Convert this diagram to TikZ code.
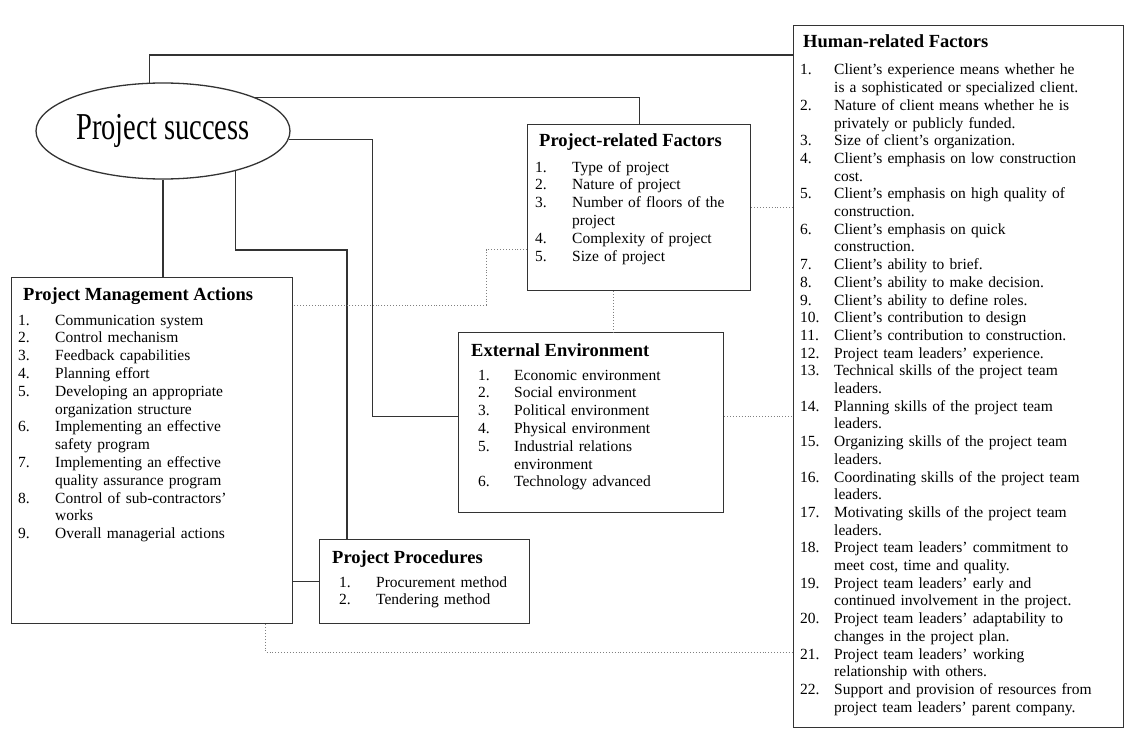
\documentclass[tikz,border=0pt]{standalone}
\usepackage{fontspec}
\setmainfont{Liberation Serif}
\usetikzlibrary{shapes.geometric}
\newlength\numcol
\newcommand\itm[2]{\makebox[\numcol][l]{#1}#2}
\newcommand\cnt[1]{\hspace*{\numcol}#1}
\begin{document}
\begin{tikzpicture}[
          x=1pt, y=-1pt,
          box/.style={draw=black!80, line width=1.3pt, anchor=north west, inner sep=0pt},
          heading/.style={anchor=base west, inner sep=0pt, font=\fontsize{18.5}{22}\selectfont\bfseries},
          items/.style={anchor=base west, inner sep=0pt, text width=330pt, align=left, font=\fontsize{15.5}{17.8}\selectfont},
          tie/.style={draw=black!80, line width=1.2pt},
          link/.style={draw=black!50, line width=0.9pt, dotted}
        ]
        \useasboundingbox (0,0) rectangle (1126,730);
        \node[ellipse, draw=black!80, line width=1.3pt, minimum width=254pt, minimum height=96pt, inner sep=0pt] (success) at (163,131)
          {\fontsize{38}{40}\selectfont\scalebox{0.75}[1]{Project success}};

        \node[box, minimum width=281pt, minimum height=346pt] (pma) at (11,277) {};
        \node[heading] (pmahead) at ([shift={(12,23)}]pma.north west) {Project Management Actions};
        \node[items] (pmalist) at ([shift={(7,48)}]pma.north west) {\global\numcol=37pt\relax
          \itm{1.}{Communication system}\\
          \itm{2.}{Control mechanism}\\
          \itm{3.}{Feedback capabilities}\\
          \itm{4.}{Planning effort}\\
          \itm{5.}{Developing an appropriate}\\
          \cnt{organization structure}\\
          \itm{6.}{Implementing an effective}\\
          \cnt{safety program}\\
          \itm{7.}{Implementing an effective}\\
          \cnt{quality assurance program}\\
          \itm{8.}{Control of sub-contractors'}\\
          \cnt{works}\\
          \itm{9.}{Overall managerial actions}};

        \node[box, minimum width=223pt, minimum height=166pt] (prf) at (527,124) {};
        \node[heading] (prfhead) at ([shift={(12,23)}]prf.north west) {Project-related Factors};
        \node[items] (prflist) at ([shift={(8,48)}]prf.north west) {\global\numcol=37pt\relax
          \itm{1.}{Type of project}\\
          \itm{2.}{Nature of project}\\
          \itm{3.}{Number of floors of the}\\
          \cnt{project}\\
          \itm{4.}{Complexity of project}\\
          \itm{5.}{Size of project}};

        \node[box, minimum width=265pt, minimum height=180pt] (ee) at (458,332) {};
        \node[heading] (eehead) at ([shift={(13,24)}]ee.north west) {External Environment};
        \node[items] (eelist) at ([shift={(20,48)}]ee.north west) {\global\numcol=36pt\relax
          \itm{1.}{Economic environment}\\
          \itm{2.}{Social environment}\\
          \itm{3.}{Political environment}\\
          \itm{4.}{Physical environment}\\
          \itm{5.}{Industrial relations}\\
          \cnt{environment}\\
          \itm{6.}{Technology advanced}};

        \node[box, minimum width=210pt, minimum height=84pt] (pp) at (319,539) {};
        \node[heading] (pphead) at ([shift={(13,24)}]pp.north west) {Project Procedures};
        \node[items] (pplist) at ([shift={(20,48)}]pp.north west) {\global\numcol=37pt\relax
          \itm{1.}{Procurement method}\\
          \itm{2.}{Tendering method}};

        \node[box, minimum width=330pt, minimum height=702pt] (human) at (793,25) {};
        \node[heading] (humanhead) at ([shift={(10,23)}]human.north west) {Human-related Factors};
        \node[items, font=\fontsize{15.5}{17.7}\selectfont] (humanlist) at ([shift={(7,50)}]human.north west) {\global\numcol=34pt\relax
          \itm{1.}{Client's experience means whether he}\\
          \cnt{is a sophisticated or specialized client.}\\
          \itm{2.}{Nature of client means whether he is}\\
          \cnt{privately or publicly funded.}\\
          \itm{3.}{Size of client's organization.}\\
          \itm{4.}{Client's emphasis on low construction}\\
          \cnt{cost.}\\
          \itm{5.}{Client's emphasis on high quality of}\\
          \cnt{construction.}\\
          \itm{6.}{Client's emphasis on quick}\\
          \cnt{construction.}\\
          \itm{7.}{Client's ability to brief.}\\
          \itm{8.}{Client's ability to make decision.}\\
          \itm{9.}{Client's ability to define roles.}\\
          \itm{10.}{Client's contribution to design}\\
          \itm{11.}{Client's contribution to construction.}\\
          \itm{12.}{Project team leaders' experience.}\\
          \itm{13.}{Technical skills of the project team}\\
          \cnt{leaders.}\\
          \itm{14.}{Planning skills of the project team}\\
          \cnt{leaders.}\\
          \itm{15.}{Organizing skills of the project team}\\
          \cnt{leaders.}\\
          \itm{16.}{Coordinating skills of the project team}\\
          \cnt{leaders.}\\
          \itm{17.}{Motivating skills of the project team}\\
          \cnt{leaders.}\\
          \itm{18.}{Project team leaders' commitment to}\\
          \cnt{meet cost, time and quality.}\\
          \itm{19.}{Project team leaders' early and}\\
          \cnt{continued involvement in the project.}\\
          \itm{20.}{Project team leaders' adaptability to}\\
          \cnt{changes in the project plan.}\\
          \itm{21.}{Project team leaders' working}\\
          \cnt{relationship with others.}\\
          \itm{22.}{Support and provision of resources from}\\
          \cnt{project team leaders' parent company.}};

        \draw[tie] (success.106) |- ([shift={(0,30)}]human.north west);
        \draw[tie] (success.20) -| (prf.north);
        \draw[tie] (success.-4) -- ++(84,0) |- ([shift={(0,-6)}]ee.west);
        \draw[tie] (success.-29) |- ([shift={(28,-289)}]pp.north west) -- ([shift={(28,0)}]pp.north west);
        \draw[tie] (success.south) -- (success.south |- pma.north);
        \draw[tie] (pma.east |- pp.west) -- (pp.west);

        \draw[link] ([shift={(-26,0)}]prf.south) -- ([shift={(-26,0)}]prf.south |- ee.north);
        \draw[link] (prf.east) -- (prf.east -| human.west);
        \draw[link] ([shift={(0,42)}]prf.west) -- ++(-41,0) |- ([shift={(0,28)}]pma.north east);
        \draw[link] ([shift={(0,-6)}]ee.east) -- ([shift={(0,-6)}]ee.east -| human.west);
        \draw[link] ([shift={(-28,0)}]pma.south east) |- ([shift={(0,627)}]human.north west);
        \end{tikzpicture}
\end{document}
